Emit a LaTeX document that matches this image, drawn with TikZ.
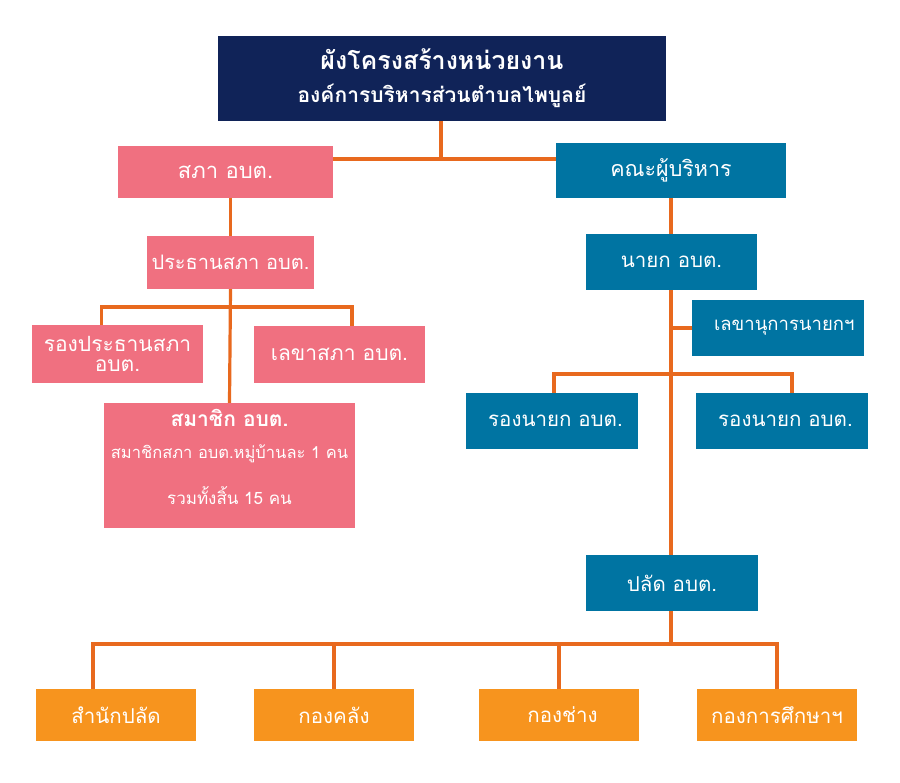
\documentclass[tikz,border=0pt]{standalone}
\usepackage{fontspec}
\setmainfont{Loma}[Script=Thai]
\definecolor{navy}{RGB}{16,35,88}
\definecolor{pinkfill}{RGB}{240,112,128}
\definecolor{tealfill}{RGB}{0,116,162}
\definecolor{orangefill}{RGB}{247,148,30}
\definecolor{linkline}{RGB}{232,105,30}
\begin{document}
\begin{tikzpicture}[x=1pt,y=-1pt,
    box/.style={shape=rectangle,inner sep=0pt,text=white,align=center,font=\fontsize{20.5}{23}\selectfont},
    pinkbox/.style={box,fill=pinkfill},
    bluebox/.style={box,fill=tealfill},
    orangebox/.style={box,fill=orangefill,minimum width=160,minimum height=52},
    link/.style={draw=linkline,line width=3.2pt}]
    \useasboundingbox (0,0) rectangle (900,783);

    \node[box,fill=navy,minimum width=448,minimum height=85] (title) at (442,78.5)
        {{\fontsize{25}{28}\selectfont\bfseries ผังโครงสร้างหน่วยงาน}\\[10pt]{\fontsize{21}{24}\selectfont\bfseries องค์การบริหารส่วนตำบลไพบูลย์}};

    \node[pinkbox,minimum width=215,minimum height=52,font=\fontsize{22}{24}\selectfont] (sapa) at (225.5,172) {สภา อบต.};
    \node[pinkbox,minimum width=167,minimum height=53,font=\fontsize{20}{24}\selectfont] (chair) at (230.5,262.5) {ประธานสภา อบต.};
    \node[pinkbox,minimum width=171,minimum height=58,font=\fontsize{21}{20}\selectfont] (vice) at (117.5,354) {รองประธานสภา\\อบต.};
    \node[pinkbox,minimum width=171,minimum height=57,font=\fontsize{21}{24}\selectfont] (clerk) at (339.5,354.5) {เลขาสภา อบต.};
    \node[pinkbox,minimum width=251,minimum height=125] (member) at (229.5,465.5) {};
    \node[text=white,font=\fontsize{21}{24}\selectfont\bfseries] (memberhead) at (229.5,418) {สมาชิก อบต.};
    \node[text=white,font=\fontsize{16.5}{20}\selectfont] (memberline) at (229.5,454) {สมาชิกสภา อบต.หมู่บ้านละ 1 คน};
    \node[text=white,font=\fontsize{17}{20}\selectfont] (membertotal) at (229.5,496) {รวมทั้งสิ้น 15 คน};

    \node[bluebox,minimum width=230,minimum height=55,font=\fontsize{21.5}{24}\selectfont] (board) at (671,170.5) {คณะผู้บริหาร};
    \node[bluebox,minimum width=171,minimum height=56] (mayor) at (671.5,262) {นายก อบต.};
    \node[bluebox,minimum width=172,minimum height=56,font=\fontsize{18.5}{20}\selectfont] (secy) at (778,328) {~~เลขานุการนายกฯ};
    \node[bluebox,minimum width=172,minimum height=56] (depA) at (552,421) {~รองนายก อบต.};
    \node[bluebox,minimum width=172,minimum height=56] (depB) at (782,421) {~รองนายก อบต.};
    \node[bluebox,minimum width=172,minimum height=56] (palad) at (672,583) {ปลัด อบต.};

    \node[orangebox] (office) at (116,715) {สำนักปลัด};
    \node[orangebox] (finance) at (334,715) {กองคลัง};
    \node[orangebox] (works) at (559,715) {~กองช่าง};
    \node[orangebox] (edu) at (777,715) {กองการศึกษาฯ};

    \coordinate (top) at (441,159);
    \coordinate (left) at (232,307);
    \coordinate (right) at (671,374);
    \coordinate (bottom) at (671,644);

    % council side
    \draw[link] (title.south -| top) -- (top);
    \draw[link] (sapa.east |- top) -- (board.west |- top);
    \draw[link] (sapa.south -| chair.north) -- (chair.north);
    \draw[link] (chair.south) -- (member.north);
    \draw[link] ([xshift=-16]vice.north) |- (left) -| ([xshift=12.5]clerk.north);

    % executive side
    \draw[link] (board.south) -- (mayor.north -| board.south);
    \draw[link] (mayor.south -| board.south) -- (palad.north -| board.south);
    \draw[link] (secy.west -| board.south) -- (secy.west);
    \draw[link] ([xshift=2]depA.north) |- (right) -| ([xshift=10]depB.north);

    % offices
    \draw[link] (palad.south -| bottom) -- (bottom);
    \draw[link] ([xshift=-23]office.north) |- (bottom) -| (edu.north);
    \draw[link] (finance.north) -- (finance.north |- bottom);
    \draw[link] (works.north) -- (works.north |- bottom);
\end{tikzpicture}
\end{document}
